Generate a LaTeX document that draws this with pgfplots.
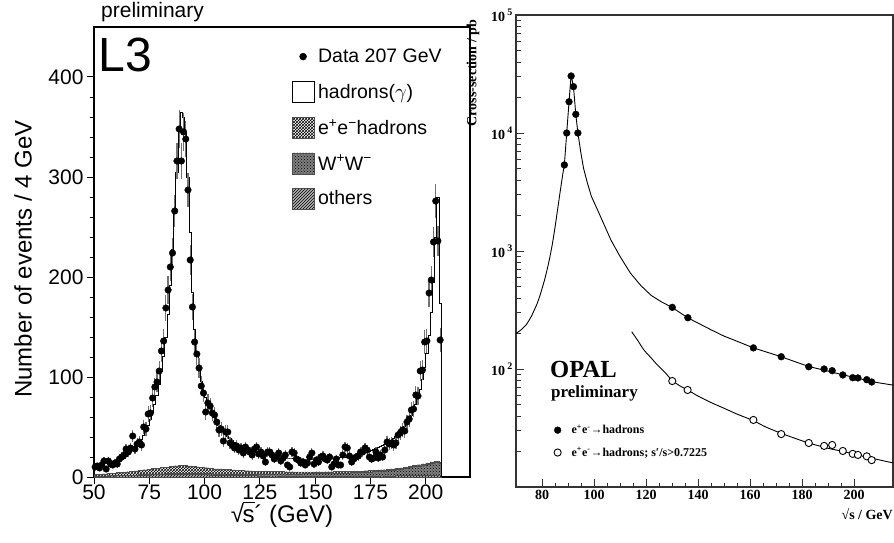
\documentclass[border=0pt]{standalone}
\usepackage{pgfplots}
\pgfplotsset{compat=1.18}
\usepackage{pgfplotstable}
\usepackage{fontspec}
\setmainfont{Liberation Sans}
\newfontfamily\timesfont{Liberation Serif}
\usetikzlibrary{patterns}

% L3 sqrt(s') spectrum at 207 GeV, 1 GeV bins given by their left edge
\pgfplotstableread{
E mc data
50 8 10
51 9 11
52 9 9
53 10 12
54 10 16
55 11 8
56 11 16
57 12 13
58 13 12
59 14 14
60 15 13
61 16 18
62 18 20
63 19 22
64 21 28
65 23 25
66 25 29
67 27 41
68 29 28
69 32 33
70 35 35
71 38 32
72 42 50
73 47 48
74 52 63
75 58 64
76 65 79
77 73 90
78 82 95
79 93 106
80 106 126
81 121 136
82 140 169
83 163 187
84 192 210
85 228 224
86 265 266
87 305 316
88 345 348
89 365 316
90 360 345
91 345 338
92 300 287
93 245 217
94 185 170
95 148 135
96 124 123
97 108 109
98 96 91
99 87 84
100 80 65
101 74 74
102 69 71
103 64 64
104 60 62
105 56 55
106 52 47
107 49 48
108 46 36
109 43 45
110 41 45
111 39 34
112 37 32
113 35 29
114 33 31
115 32 27
116 31 29
117 30 24
118 29 30
119 28 27
120 27 25
121 26 22
122 26 28
123 25 30
124 24 23
125 24 25
126 23 21
127 23 15
128 22 25
129 22 25
130 21 22
131 21 18
132 21 20
133 20 24
134 20 16
135 20 19
136 19 22
137 19 12
138 19 10
139 19 25
140 18 24
141 18 18
142 18 17
143 18 14
144 18 15
145 18 12
146 18 14
147 18 20
148 18 24
149 18 13
150 18 17
151 18 15
152 18 20
153 18 21
154 18 18
155 18 17
156 18 20
157 19 10
158 19 13
159 19 18
160 19 12
161 20 12
162 20 22
163 20 30
164 21 29
165 21 21
166 22 15
167 22 18
168 23 20
169 23 21
170 24 25
171 24 25
172 25 29
173 26 27
174 26 20
175 27 18
176 28 19
177 29 25
178 30 19
179 31 22
180 32 20
181 33 27
182 34 35
183 36 33
184 37 34
185 39 32
186 41 34
187 43 42
188 45 44
189 48 47
190 51 46
191 54 55
192 58 58
193 62 67
194 67 68
195 73 82
196 80 81
197 88 106
198 98 107
199 110 135
200 124 136
201 142 184
202 165 197
203 195 235
204 240 276
205 280 236
206 174 137
207 0 0
}\lthree

% backgrounds: two-photon, W-pairs, others (2 GeV bins)
\pgfplotstableread{
E ee ww oth
50 1.5 0.0 1.0
52 2.0 0.0 1.0
54 2.0 0.2 1.0
56 2.5 0.2 1.2
58 2.5 0.2 1.2
60 3.0 0.3 1.5
62 3.0 0.3 1.5
64 3.5 0.3 1.5
66 3.8 0.4 1.6
68 4.0 0.4 1.8
70 4.5 0.5 2.0
72 4.8 0.5 2.0
74 5.0 0.5 2.2
76 5.5 0.6 2.4
78 5.8 0.6 2.5
80 6.2 0.7 2.6
82 6.5 0.7 2.8
84 7.0 0.8 3.0
86 7.5 0.8 3.0
88 8.0 0.9 3.0
90 7.6 0.9 3.0
92 7.2 1.0 3.0
94 7.0 1.0 2.8
96 6.6 1.0 2.6
98 6.2 1.0 2.5
100 5.8 1.1 2.4
102 5.4 1.2 2.2
104 5.0 1.2 2.0
106 4.8 1.3 2.0
108 4.5 1.3 1.9
110 4.2 1.4 1.8
112 4.0 1.4 1.7
114 3.6 1.5 1.6
116 3.4 1.5 1.5
118 3.2 1.6 1.5
120 3.0 1.7 1.4
122 2.8 1.7 1.4
124 2.7 1.8 1.3
126 2.6 1.8 1.3
128 2.5 1.9 1.2
130 2.4 2.0 1.2
132 2.3 2.0 1.2
134 2.2 2.1 1.1
136 2.1 2.1 1.1
138 2.0 2.2 1.1
140 2.0 2.2 1.0
142 1.9 2.3 1.0
144 1.8 2.4 1.0
146 1.8 2.4 1.0
148 1.7 2.5 1.0
150 1.7 2.6 1.0
152 1.6 2.6 1.0
154 1.6 2.7 1.0
156 1.5 2.8 1.0
158 1.5 2.9 1.0
160 1.5 3.0 1.0
162 1.4 3.1 1.0
164 1.4 3.2 1.0
166 1.4 3.4 1.0
168 1.3 3.5 1.0
170 1.3 3.7 1.0
172 1.3 3.9 1.1
174 1.2 4.1 1.1
176 1.2 4.4 1.1
178 1.2 4.7 1.2
180 1.1 5.0 1.2
182 1.1 5.4 1.3
184 1.1 5.8 1.3
186 1.0 6.3 1.4
188 1.0 6.8 1.4
190 1.0 7.4 1.5
192 1.0 8.0 1.6
194 1.0 8.7 1.7
196 1.0 9.5 1.8
198 1.0 10.3 1.9
200 1.0 11.2 2.0
202 1.0 12.0 2.1
204 1.0 12.6 2.2
206 1.0 11.5 2.2
207 0 0 0
}\lthreebkg

\tikzset{
  eestyle/.style={draw=black!70, line width=0.4pt, fill=white, postaction={pattern=crosshatch}},
  wwstyle/.style={draw=black!70, line width=0.4pt, fill=black!50, postaction={pattern=crosshatch dots}},
  othstyle/.style={draw=black!70, line width=0.4pt, fill=black!30, postaction={pattern=north east lines}},
}

\begin{document}
\begin{tikzpicture}
\useasboundingbox (0,0) rectangle (894pt,542pt);

% ---------------- L3 panel ----------------
\begin{axis}[
  at={(94pt,65pt)}, anchor=south west, scale only axis,
  width=376pt, height=450pt,
  xmin=50, xmax=220, ymin=0, ymax=450,
  xtick={50,75,100,125,150,175,200},
  ytick={0,100,200,300,400},
  minor y tick num=4,
  xtick pos=bottom, ytick pos=left,
  tick align=outside,
  major tick length=7pt, minor tick length=4pt,
  every tick/.style={black, line width=1pt},
  axis line style={black, line width=1.2pt},
  ticklabel style={font=\fontsize{21}{24}\selectfont},
  xticklabel style={inner sep=1pt},
  /pgf/number format/assume math mode=true,
  xlabel={√\kern-0.06em\rlap{\rule[0.8em]{0.5em}{0.06em}}s´ (GeV)},
  ylabel={Number of events / 4 GeV},
  label style={font=\fontsize{24}{28}\selectfont, inner sep=0pt},
  xlabel style={at={(axis description cs:0.5,0)}, anchor=base, yshift=-45.5pt},
  ylabel style={at={(axis description cs:-0.166,0.484)}, anchor=base},
  legend cell align=left,
  legend style={draw=none, fill=none, at={(0.525,0.958)}, anchor=north west,
    inner sep=0pt, row sep=14pt, font=\fontsize{19.5}{22}\selectfont,
    nodes={inner sep=1.5pt}, column sep=2pt},
]
\addlegendimage{legend image code/.code={\path[draw=none, fill=none] (0pt,-10.5pt) rectangle (22pt,10.5pt); \fill[black] (11pt,0pt) circle (3.5pt);}}
\addlegendentry{Data 207 GeV}
\addlegendimage{legend image code/.code={\draw[black, line width=1pt, fill=white] (0pt,-10.5pt) rectangle (22pt,10.5pt);}}
\addlegendentry{hadrons($\gamma$)}
\addlegendimage{legend image code/.code={\draw[eestyle] (0pt,-10.5pt) rectangle (22pt,10.5pt);}}
\addlegendentry{e\textsuperscript{+}e\textsuperscript{−}hadrons}
\addlegendimage{legend image code/.code={\draw[wwstyle] (0pt,-10.5pt) rectangle (22pt,10.5pt);}}
\addlegendentry{W\textsuperscript{+}W\textsuperscript{−}}
\addlegendimage{legend image code/.code={\draw[othstyle] (0pt,-10.5pt) rectangle (22pt,10.5pt);}}
\addlegendentry{others}

% stacked backgrounds, drawn from the total downwards
\addplot[const plot, eestyle, forget plot] table[x=E, y expr=\thisrow{ee}+\thisrow{ww}+\thisrow{oth}] {\lthreebkg} \closedcycle;
\addplot[const plot, wwstyle, forget plot] table[x=E, y expr=\thisrow{ww}+\thisrow{oth}] {\lthreebkg} \closedcycle;
\addplot[const plot, othstyle, forget plot] table[x=E, y=oth] {\lthreebkg} \closedcycle;

% expected hadrons(gamma) + backgrounds
\addplot[const plot, black, line width=0.9pt, forget plot] table[x=E, y=mc] {\lthree};

% data with statistical errors
\addplot[only marks, mark=*, mark size=3.3pt, black, forget plot,
  restrict x to domain=50:206.9,
  error bars/.cd, y dir=both, y explicit,
  error bar style={black!55, line width=1.2pt}, error mark=none]
  table[x expr=\thisrow{E}+0.5, y=data, y error expr={sqrt(\thisrow{data})}] {\lthree};
\end{axis}

\node[anchor=base west, inner sep=0pt, font=\fontsize{21}{24}\selectfont] at (101pt,524.5pt) {preliminary};
\node[anchor=base west, inner sep=0pt, font=\fontsize{48}{52}\selectfont] at (98.5pt,470.3pt) {L3};

% ---------------- OPAL panel ----------------
\begin{axis}[
  at={(516pt,55pt)}, anchor=south west, scale only axis,
  width=377pt, height=472pt,
  xmin=70, xmax=215, ymode=log, ymin=10, ymax=1e5,
  xtick={80,100,...,200}, minor x tick num=3,
  ytick={10,100,1000,10000,100000},
  minor ytick={20,30,40,50,60,70,80,90,200,300,400,500,600,700,800,900,2000,3000,4000,5000,6000,7000,8000,9000,20000,30000,40000,50000,60000,70000,80000,90000},
  yticklabels={{},
    {10\,\raisebox{0.45em}{\fontsize{10}{10}\selectfont 2}},
    {10\,\raisebox{0.45em}{\fontsize{10}{10}\selectfont 3}},
    {10\,\raisebox{0.45em}{\fontsize{10}{10}\selectfont 4}},
    {10\,\raisebox{0.45em}{\fontsize{10}{10}\selectfont 5}}},
  xtick pos=bottom, ytick pos=left,
  tick align=inside,
  major tick length=8pt, minor tick length=4.5pt,
  every tick/.style={black!80, line width=0.9pt},
  axis line style={black!80, line width=1.1pt},
  ticklabel style={font=\timesfont\bfseries\fontsize{14}{16}\selectfont},
  /pgf/number format/assume math mode=true,
  xlabel={√s / GeV},
  ylabel={Cross-section / pb},
  label style={font=\timesfont\bfseries\fontsize{14}{16}\selectfont, inner sep=0pt},
  xlabel style={at={(axis description cs:1,0)}, anchor=base east, yshift=-32pt},
  ylabel style={at={(axis description cs:-0.114,0.99)}, anchor=east},
  legend cell align=left,
  legend style={draw=none, fill=none, at={(0.098,0.135)}, anchor=north west,
    inner sep=0pt, row sep=9pt, font=\timesfont\bfseries\fontsize{12}{14}\selectfont,
    nodes={inner sep=1.5pt}, column sep=8pt},
]
\addlegendimage{legend image code/.code={\path[draw=none, fill=none] (0pt,-4pt) rectangle (9pt,4pt); \fill[black] (4.5pt,0pt) circle (3.4pt);}}
\addlegendentry{e\textsuperscript{+}e\textsuperscript{-}→hadrons}
\addlegendimage{legend image code/.code={\path[draw=none, fill=none] (0pt,-4pt) rectangle (9pt,4pt); \draw[black, fill=white, line width=0.9pt] (4.5pt,0pt) circle (3.6pt);}}
\addlegendentry{e\textsuperscript{+}e\textsuperscript{-}→hadrons; s′/s>0.7225}

% total hadronic cross-section prediction
\addplot[black, line width=0.9pt, forget plot] coordinates {
(70,200) (72,215) (74,238) (75,258) (76,282) (77,315) (78,352) (79,405) (80,478)
(81,570) (82,700) (83,880) (84,1150) (85,1580) (86,2250) (87,3200) (88,4500)
(88.6,5360) (89.5,10000) (90.4,18400) (91.2,31000) (92.1,24700) (93.0,14400)
(93.8,10000) (95,6700) (96,5000) (97.5,3740) (99,2900) (101.4,2220) (104,1650)
(106.5,1240) (110,900) (114,650) (118,510) (122,420) (126,370) (130,333)
(136,272) (140,245) (145,215) (150,190) (155,172) (161.3,151) (166,140)
(172,127) (177,116) (182.6,105) (190,96) (195,90) (200,85) (207,78) (215,73)};

% non-radiative (s'/s > 0.7225) prediction
\addplot[black, line width=0.9pt, smooth, forget plot] coordinates {
(114.5,207) (117,172) (119.2,145) (122,124) (124.4,108) (127,95) (130.1,80)
(133,72) (136,66.4) (140,59) (145,52) (150,46.5) (155,41.5) (161.3,36.5)
(166,32.3) (172,28.5) (177,26) (182.6,23.6) (190,21.3) (195,20.2) (200,19)
(207,17.5) (215,16)};

\addplot[only marks, mark=*, mark size=3.4pt, black, forget plot] coordinates {
(88.6,5360) (89.5,10000) (90.4,18400) (91.2,30400) (92.1,24700) (93.0,14400)
(93.8,10000) (130.1,333) (136.1,272) (161.3,151) (172.0,127) (182.6,104.5)
(188.5,100) (191.6,96.8) (195.7,89) (199.5,84.4) (201.5,84) (204.9,81.2) (206.8,77.6)};

\addplot[only marks, mark=*, mark size=3.6pt, draw=black, fill=white, line width=0.9pt, forget plot] coordinates {
(130.1,79.1) (136.0,66.4) (161.3,37) (172,28.1) (182.6,23.6) (188.5,22.3)
(191.6,22.7) (195.7,20.2) (199.5,19.1) (201.5,18.7) (204.9,18.2) (206.8,16.9)};
\end{axis}

\node[anchor=base west, inner sep=0pt, font=\timesfont\bfseries\fontsize{24.6}{28}\selectfont] at (550pt,164.7pt) {OPAL};
\node[anchor=base west, inner sep=0pt, font=\timesfont\bfseries\fontsize{17}{20}\selectfont] at (551pt,145pt) {preliminary};
\end{tikzpicture}
\end{document}
